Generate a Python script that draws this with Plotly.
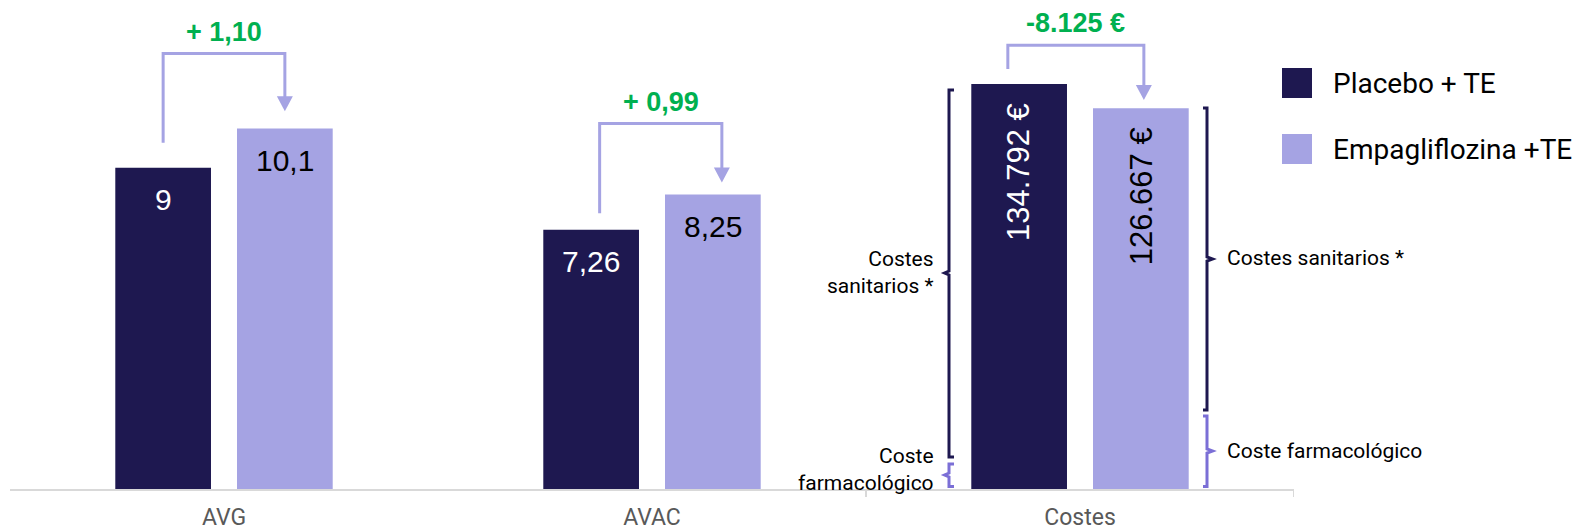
import plotly.graph_objects as go

# ---------------- data ----------------
categories = ["AVG", "AVAC", "Costes"]
series_names = ["Placebo + TE", "Empagliflozina +TE"]
placebo_values = [9, 7.26, 134792]
empa_values = [10.1, 8.25, 126667]
bracket_labels_cost = ["Costes sanitarios *", "Coste farmacológico"]

# ---------------- style / layout constants ----------------
NAVY = "#1e1850"
LAV = "#a5a3e3"
BRACE_PURPLE = "#7b6fd6"
GREEN = "#00b050"
GREY_AX = "#d9d9d9"
TXT_FONT = "Roboto, Liberation Sans, sans-serif"
NUM_FONT = "Liberation Sans, Arial, sans-serif"

W, H = 1585, 532
ML, MR, MT, MB = 10, 291, 10, 43
PW, PH = W - ML - MR, H - MT - MB
Y1_MAX = 13.42
Y2_MAX = 159400
BAR_W = 0.2236
OFFS = [-0.254, 0.0304]
colors = [NAVY, LAV]
values = [placebo_values, empa_values]


def fx(p):  # pixel x -> paper
    return (p - ML) / PW


def fy(p):  # pixel y -> paper
    return (H - MB - p) / PH


def bar_center_px(i, s):
    return ML + PW / 3 * (i + 0.5 + OFFS[s] + BAR_W / 2)


def bar_top_px(i, s):
    v = values[s][i]
    if i == 2:
        return H - MB - v / Y2_MAX * PH
    return H - MB - v / Y1_MAX * PH


def fmt_num(v):
    return f"{v:g}".replace(".", ",")


def fmt_eur(v):
    return f"{v:,.0f}".replace(",", ".") + " €"


fig = go.Figure()
for s in range(2):
    fig.add_trace(go.Bar(
        x=categories[:2], y=values[s][:2], name=series_names[s],
        marker=dict(color=colors[s], line=dict(width=0)),
        width=BAR_W, offset=OFFS[s], showlegend=False, hoverinfo="skip",
        yaxis="y"))
    fig.add_trace(go.Bar(
        x=categories[2:], y=values[s][2:], name=series_names[s],
        marker=dict(color=colors[s], line=dict(width=0)),
        width=BAR_W, offset=OFFS[s], showlegend=False, hoverinfo="skip",
        yaxis="y2"))

annotations = []
shapes = []

# value labels
txt_colors = ["white", "black"]
for s in range(2):
    for i in range(2):
        annotations.append(dict(
            x=i + OFFS[s] + BAR_W / 2, y=values[s][i], xref="x", yref="y",
            text=fmt_num(values[s][i]), showarrow=False,
            font=dict(family=NUM_FONT, size=30, color=txt_colors[s]),
            xanchor="center", yanchor="middle", yshift=-32))
    annotations.append(dict(
        x=2 + OFFS[s] + BAR_W / 2, y=values[s][2], xref="x", yref="y2",
        text=fmt_eur(values[s][2]), showarrow=False, textangle=-90,
        font=dict(family=NUM_FONT, size=31, color=txt_colors[s]),
        xanchor="center", yanchor="top", yshift=-17))

# difference brackets (pixel offsets relative to bar centres / tops)
left_dx = [0, 8.5, -11.3]
right_dx = [0, 9, 3]
start_up = [25, 16.7, 15]
level_up = [75, 71, 63]
tip_up = [17.3, 12, 8.3]
diff_labels = [
    "+ " + f"{empa_values[0] - placebo_values[0]:.2f}".replace(".", ","),
    "+ " + f"{empa_values[1] - placebo_values[1]:.2f}".replace(".", ","),
    "-" + fmt_eur(abs(empa_values[2] - placebo_values[2])),
]

for i in range(3):
    lx = bar_center_px(i, 0) + left_dx[i]
    rx = bar_center_px(i, 1) + right_dx[i]
    sy = bar_top_px(i, 0) - start_up[i]
    hy = bar_top_px(i, 1) - level_up[i]
    ty = bar_top_px(i, 1) - tip_up[i]
    ah = 15
    path = (f"M {fx(lx)},{fy(sy)} L {fx(lx)},{fy(hy)} L {fx(rx)},{fy(hy)} "
            f"L {fx(rx)},{fy(ty - ah + 1)}")
    shapes.append(dict(type="path", xref="paper", yref="paper", path=path,
                       line=dict(color=LAV, width=3), layer="above"))
    tri = (f"M {fx(rx - 8)},{fy(ty - ah)} L {fx(rx + 8)},{fy(ty - ah)} "
           f"L {fx(rx)},{fy(ty)} Z")
    shapes.append(dict(type="path", xref="paper", yref="paper", path=tri,
                       fillcolor=LAV, line=dict(width=0), layer="above"))
    annotations.append(dict(
        x=fx((lx + rx) / 2), y=fy(hy - 22), xref="paper", yref="paper",
        text=diff_labels[i], showarrow=False,
        font=dict(family=NUM_FONT, size=27, color=GREEN, weight="bold"),
        xanchor="center", yanchor="middle"))


# braces
def brace(xv, top, bot, mid, tipx, hookx, color):
    p = (f"M {fx(hookx)},{fy(top)} L {fx(xv)},{fy(top)} L {fx(xv)},{fy(mid - 2)} "
         f"L {fx(tipx)},{fy(mid)} L {fx(xv)},{fy(mid + 2)} L {fx(xv)},{fy(bot)} "
         f"L {fx(hookx)},{fy(bot)}")
    return dict(type="path", xref="paper", yref="paper", path=p,
                line=dict(color=color, width=3), layer="above")


shapes.append(brace(949, 90, 457, 273, 944.5, 954, NAVY))
shapes.append(brace(949, 464, 486.5, 475, 944.5, 954, BRACE_PURPLE))
shapes.append(brace(1207, 108, 410, 259, 1212.5, 1203, NAVY))
shapes.append(brace(1207, 416, 486.5, 451, 1212.5, 1203, BRACE_PURPLE))

lbl_font = dict(family=TXT_FONT, size=21, color="black")
annotations.append(dict(x=fx(936), y=fy(272), xref="paper", yref="paper",
                        text=bracket_labels_cost[0].replace(" ", "<br>", 1),
                        showarrow=False, font=lbl_font, xanchor="right",
                        yanchor="middle", align="right"))
annotations.append(dict(x=fx(936), y=fy(469), xref="paper", yref="paper",
                        text=bracket_labels_cost[1].replace(" ", "<br>", 1),
                        showarrow=False, font=lbl_font, xanchor="right",
                        yanchor="middle", align="right"))
annotations.append(dict(x=fx(1225), y=fy(258), xref="paper", yref="paper",
                        text=bracket_labels_cost[0], showarrow=False,
                        font=lbl_font, xanchor="left", yanchor="middle"))
annotations.append(dict(x=fx(1225), y=fy(451), xref="paper", yref="paper",
                        text=bracket_labels_cost[1], showarrow=False,
                        font=lbl_font, xanchor="left", yanchor="middle"))

# custom legend
leg_y = [83, 149]
for s in range(2):
    shapes.append(dict(type="rect", xref="paper", yref="paper",
                       x0=fx(1282), x1=fx(1312), y0=fy(leg_y[s] - 15), y1=fy(leg_y[s] + 15),
                       fillcolor=colors[s], line=dict(width=0)))
    annotations.append(dict(x=fx(1331), y=fy(leg_y[s]), xref="paper", yref="paper",
                            text=series_names[s], showarrow=False,
                            font=dict(family=TXT_FONT, size=28, color="black"),
                            xanchor="left", yanchor="middle"))

# tick marks at category boundaries
for b in [1.5, 2.5]:
    shapes.append(dict(type="line", xref="x", yref="paper", x0=b, x1=b,
                       y0=0, y1=fy(497), line=dict(color=GREY_AX, width=2)))

fig.update_layout(
    width=W, height=H,
    margin=dict(l=ML, r=MR, t=MT, b=MB, autoexpand=False),
    paper_bgcolor="white", plot_bgcolor="white",
    barmode="overlay",
    showlegend=False,
    xaxis=dict(type="category", range=[-0.5, 2.5], showline=True,
               linecolor=GREY_AX, linewidth=2, ticks="", showgrid=False,
               zeroline=False, automargin=False,
               tickfont=dict(family=TXT_FONT, size=23, color="#595959"),
               ticklabelstandoff=6),
    yaxis=dict(range=[0, Y1_MAX], visible=False, showgrid=False, automargin=False),
    yaxis2=dict(range=[0, Y2_MAX], visible=False, showgrid=False,
                overlaying="y", side="right", automargin=False),
    annotations=annotations,
    shapes=shapes,
)

fig.write_html("out.html")
